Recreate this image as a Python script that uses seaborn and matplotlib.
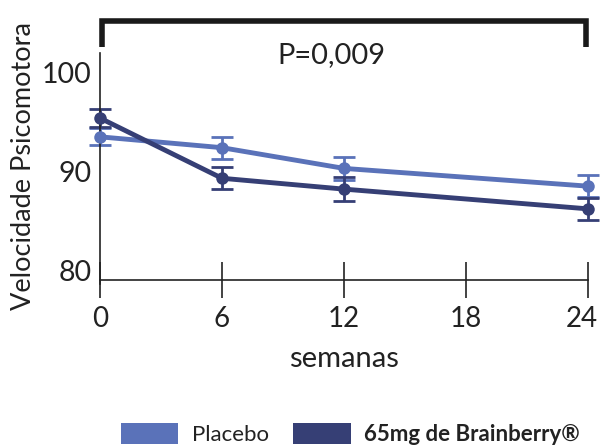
import matplotlib
matplotlib.use("Agg")
import matplotlib.pyplot as plt
import matplotlib.transforms as mtransforms
from matplotlib.patches import Patch
import seaborn as sns
import pandas as pd

weeks = [0, 6, 12, 24]
placebo = [93.5, 92.4, 90.3, 88.5]
placebo_err = [0.85, 1.1, 1.2, 1.1]
brainberry = [95.4, 89.3, 88.2, 86.2]
brainberry_err = [0.9, 1.1, 1.25, 1.1]
groups = ["Placebo", "65mg de Brainberry®"]
colors = ["#5a72b9", "#363f75"]
x_ticks = [0, 6, 12, 18, 24]
y_ticks = [80, 90, 100]
p_text = "P=0,009"

sns.set_theme(style="white")
plt.rcParams["font.family"] = ["Lato", "DejaVu Sans"]

df = pd.DataFrame({
    "semanas": weeks * 2,
    "valor": placebo + brainberry,
    "grupo": [groups[0]] * len(weeks) + [groups[1]] * len(weeks),
})

fig = plt.figure(figsize=(6.01, 4.45), dpi=100)
ax = fig.add_axes([0.1664, 0.371, 0.812, 0.51])

sns.lineplot(data=df, x="semanas", y="valor", hue="grupo", palette=colors,
             marker="o", markersize=9, markeredgewidth=0, linewidth=3.5,
             legend=False, ax=ax, clip_on=False, zorder=3)

for vals, errs, c in [(placebo, placebo_err, colors[0]), (brainberry, brainberry_err, colors[1])]:
    ax.errorbar(weeks, vals, yerr=errs, fmt="none", ecolor=c, elinewidth=2,
                capsize=8, capthick=2, clip_on=False, zorder=2)

ax.set_xlim(0, 24)
ax.set_ylim(79, 102)
ax.set_xticks(x_ticks)
ax.set_yticks(y_ticks)
ax.tick_params(axis="x", bottom=True, direction="inout", length=26, width=1.2,
               colors="#222222", labelsize=20, pad=6, labelcolor="#222222")
ax.tick_params(axis="y", left=False, length=0, labelsize=20.5, pad=6, labelcolor="#222222")
for s in ["top", "right"]:
    ax.spines[s].set_visible(False)
for s in ["left", "bottom"]:
    ax.spines[s].set_color("#222222")
    ax.spines[s].set_linewidth(1.2)
ax.spines["left"].set_bounds(78.6, 102)

# keep the last week label inside the canvas
last = ax.get_xticklabels()[-1]
last.set_transform(last.get_transform() +
                   mtransforms.ScaledTranslation(-6 / 100, 0, fig.dpi_scale_trans))

ax.set_xlabel("semanas", fontsize=21, color="#222222", labelpad=10)
ax.set_ylabel("Velocidade Psicomotora", fontsize=19.5, color="#222222", labelpad=4)

# significance bracket above the plot
ax.plot([0.1, 0.1, 23.9, 23.9], [102.6, 105.2, 105.2, 102.6], color="#1a1a1a",
        linewidth=4, clip_on=False, solid_joinstyle="miter", solid_capstyle="butt")
ax.text(11.4, 101.8, p_text, ha="center", va="center", fontsize=21, color="#222222")

handles = [Patch(facecolor=c, edgecolor="none") for c in colors]
leg = fig.legend(handles, groups, loc="lower center", bbox_to_anchor=(0.583, -0.045),
                 ncol=2, frameon=False, fontsize=16, handlelength=2.6, handleheight=1.1,
                 columnspacing=1.1, handletextpad=0.6)
leg.get_texts()[1].set_fontweight("bold")
for t in leg.get_texts():
    t.set_color("#222222")

fig.savefig("out.png", dpi=100)
